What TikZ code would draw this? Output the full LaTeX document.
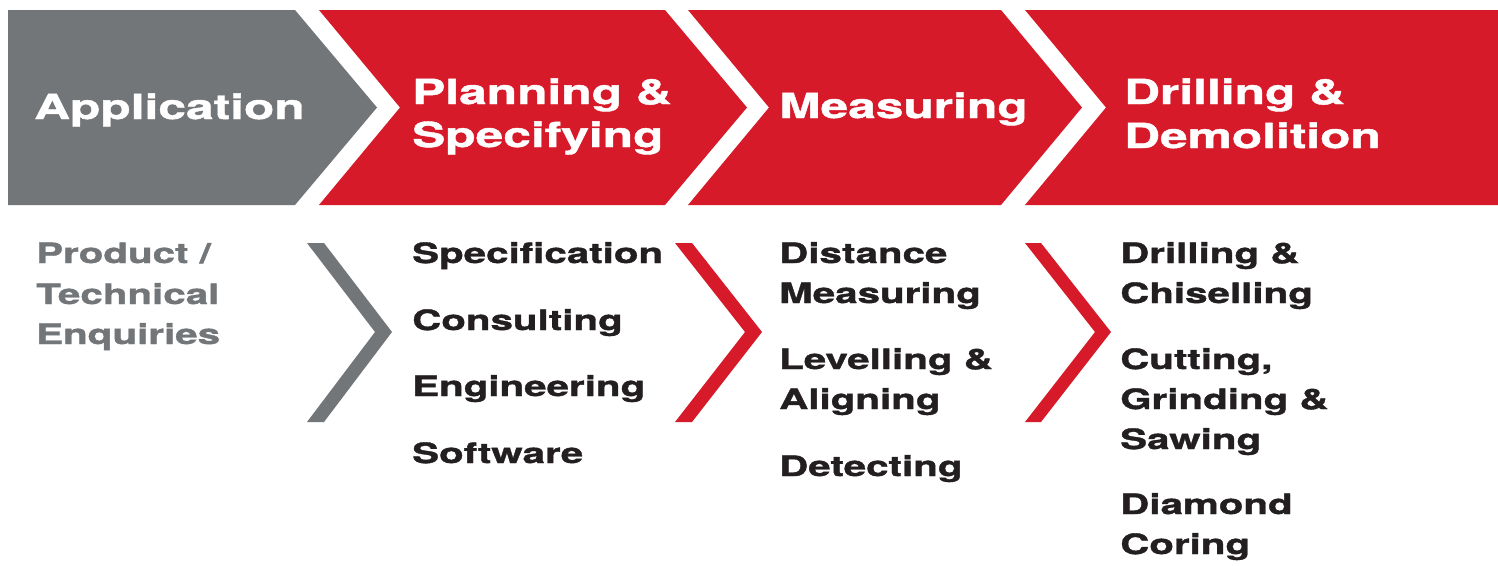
\documentclass[tikz,border=0pt]{standalone}
\usepackage{fontspec}
\newfontfamily\hvfont{TeX Gyre Heros}[FakeStretch=1.44, BoldFeatures={FakeBold=1.3}]
\definecolor{hred}{HTML}{D71A2A}
\definecolor{hgray}{HTML}{737679}
\definecolor{ink}{HTML}{231F20}
\begin{document}
\begin{tikzpicture}[x=1pt,y=-1pt,
  hdr/.style={font=\hvfont\bfseries\fontsize{34.5}{40}\selectfont, text=white, anchor=base west, inner sep=0pt},
  item/.style={font=\hvfont\bfseries\fontsize{28}{34}\selectfont, text=ink, anchor=base west, inner sep=0pt},
  gitem/.style={item, text=hgray},
  redfill/.style={fill=hred, draw=none},
  grayfill/.style={fill=hgray, draw=none}]
\useasboundingbox (0,0) rectangle (1498,565);
\fill[white] (0,0) rectangle (1498,565);
% header chevrons
\fill[grayfill] (8,10) -- (295,10) -- (377,107.5) -- (295,205) -- (8,205) -- cycle;
\fill[redfill] (319,10) -- (665,10) -- (747,107.5) -- (665,205) -- (319,205) -- (400,107.5) -- cycle;
\fill[redfill] (688,10) -- (1001,10) -- (1082,107.5) -- (1001,205) -- (688,205) -- (769,107.5) -- cycle;
\fill[redfill] (1025,10) -- (1498,10) -- (1498,205) -- (1025,205) -- (1106,107.5) -- cycle;
% small chevrons
\fill[grayfill] (307,243) -- (324,243) -- (392,332) -- (324,422) -- (307,422) -- (375,332) -- cycle;
\fill[redfill] (675,243) -- (692,243) -- (762,332) -- (692,422) -- (675,422) -- (745,332) -- cycle;
\fill[redfill] (1025,243) -- (1041,243) -- (1111,332) -- (1041,422) -- (1025,422) -- (1095,332) -- cycle;
% header texts
\node[hdr] (h1) at (34,119) {Application};
\node[hdr] (h2a) at (412,104) {Planning \&};
\node[hdr] (h2b) at (412,147) {Specifying};
\node[hdr] (h3) at (779,118) {Measuring};
\node[hdr] (h4a) at (1124,104) {Drilling \&};
\node[hdr] (h4b) at (1124,148) {Demolition};
% column 1
\node[gitem] (c1a) at (36,263) {Product /};
\node[gitem] (c1b) at (36,304) {Technical};
\node[gitem] (c1c) at (36,344) {Enquiries};
% column 2
\node[item] (c2a) at (412,263) {Specification};
\node[item] (c2b) at (412,330) {Consulting};
\node[item] (c2c) at (412,396) {Engineering};
\node[item] (c2d) at (412,463) {Software};
% column 3
\node[item] (c3a) at (779,263) {Distance};
\node[item] (c3b) at (779,303) {Measuring};
\node[item] (c3c) at (779,369) {Levelling \&};
\node[item] (c3d) at (779,409) {Aligning};
\node[item] (c3e) at (779,476) {Detecting};
% column 4
\node[item] (c4a) at (1120,263) {Drilling \&};
\node[item] (c4b) at (1120,303) {Chiselling};
\node[item] (c4c) at (1120,369) {Cutting,};
\node[item] (c4d) at (1120,409) {Grinding \&};
\node[item] (c4e) at (1120,449) {Sawing};
\node[item] (c4f) at (1120,514) {Diamond};
\node[item] (c4g) at (1120,554) {Coring};
\end{tikzpicture}
\end{document}
